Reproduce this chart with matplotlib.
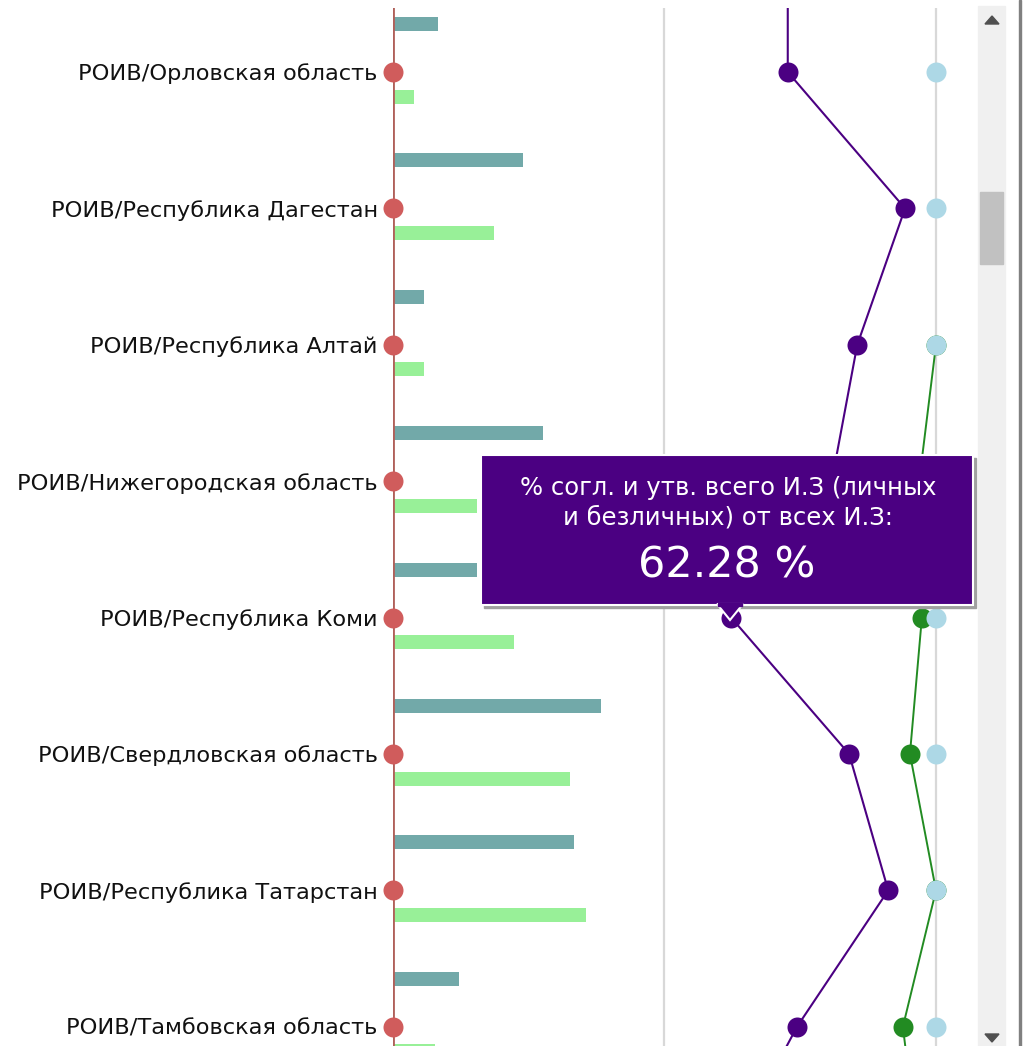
import matplotlib
matplotlib.use("Agg")
import matplotlib.pyplot as plt
import numpy as np
from matplotlib.patches import Rectangle, Polygon

# categories visible in the scrolled window
regions = ["РОИВ/Орловская область", "РОИВ/Республика Дагестан", "РОИВ/Республика Алтай",
           "РОИВ/Нижегородская область", "РОИВ/Республика Коми", "РОИВ/Свердловская область",
           "РОИВ/Республика Татарстан", "РОИВ/Тамбовская область"]

# bar series (counts, estimated)
bars_total = [45, 130, 31, 150, 84, 208, 181, 66]
bars_agreed = [21, 101, 31, 84, 121, 177, 193, 42]

# percent series: neighbour above, 8 visible categories, neighbour below
pct_all = [72.7, 72.7, 94.3, 85.5, 80.8, 62.28, 84.0, 91.2, 74.4, 61.0]
pct_agreed = [np.nan, np.nan, np.nan, 100, 96.9, 97.4, 95.2, 100, 93.9, 97.0]
pct_max = [100, 100, 100, 100, 100, 100, 100, 100, 100, 100]

tooltip_idx = 4
tooltip_title = "% согл. и утв. всего И.З (личных\nи безличных) от всех И.З:"

W, H = 1030, 1046
fig = plt.figure(figsize=(W / 100, H / 100), dpi=100)

def fx(x):
    return x / W

def fy(y):
    return 1 - y / H

# axes: left edge = 0 %, 100 % lands at px 936
x0, x100, xr = 393, 936, 978
top, bot = 8, 1046
ax = fig.add_axes([fx(x0), fy(bot), fx(xr) - fx(x0), fy(top) - fy(bot)])
ax2 = ax.twiny()

step = 136.4
y_first = 72
ax.set_ylim((bot - y_first) / step, -(y_first - top) / step)
ax.set_xlim(0, xr - x0)            # bars: 1 unit = 1 px
ax2.set_xlim(0, (xr - x0) / (x100 - x0) * 100)

y = np.arange(len(regions))
bh = 14 / step
ax.barh(y - 48 / step, bars_total, height=bh, color="#72a9a9", zorder=2)
ax.barh(y + 24.5 / step, bars_agreed, height=bh, color="#98f098", zorder=2)

ax.set_yticks(y)
ax.set_yticklabels(regions, fontsize=16.2, color="#111111")
ax.tick_params(axis="y", length=0, pad=11)
ax.tick_params(axis="x", length=0, labelbottom=False)
ax2.tick_params(axis="x", length=0, labeltop=False)
for a in (ax, ax2):
    for s in a.spines.values():
        s.set_visible(False)
ax2.patch.set_visible(False)

# grid lines at 50 / 100 %
for g in (50, 100):
    ax2.axvline(g, color="#d8d8d8", lw=1.6, zorder=1)
ax2.axvline(0, color="#b0605a", lw=2.0, zorder=3)

ax2.plot(np.zeros(len(regions)), y, "o", color="#d05c5c", ms=14.4, mec="none",
         clip_on=False, zorder=5)

yy = np.arange(-1, len(regions) + 1)
ax2.plot(pct_all, yy, "-o", color="#4b0082", lw=1.5, ms=14.4, mec="none", zorder=4)
ax2.plot(pct_agreed, yy, "-o", color="#228b22", lw=1.4, ms=14.4, mec="none", zorder=4)
ax2.plot(pct_max, yy, "o", color="#add8e6", ms=14.4, mec="none", zorder=4)

# tooltip over Коми
bx0, bx1, by0, by1 = 481, 973, 455, 605
fig.add_artist(Rectangle((fx(bx0 + 3), fy(by1 + 3)), fx(bx1 - bx0), fy(by0) - fy(by1),
                         transform=fig.transFigure, color="#a0a0a0", zorder=10))
fig.add_artist(Rectangle((fx(bx0), fy(by1)), fx(bx1 - bx0), fy(by0) - fy(by1),
                         transform=fig.transFigure, fc="#4b0082", ec="white", lw=1.5, zorder=11))
tip_x = 730
fig.add_artist(Polygon([(fx(tip_x - 13), fy(by1 - 1)), (fx(tip_x + 13), fy(by1 - 1)),
                        (fx(tip_x), fy(by1 + 15))], closed=True, transform=fig.transFigure,
                       fc="#4b0082", ec="white", lw=1.5, zorder=12))
fig.add_artist(Rectangle((fx(tip_x - 12), fy(by1 + 1)), fx(24), fy(by1 - 2) - fy(by1 + 1),
                         transform=fig.transFigure, color="#4b0082", zorder=13))
fig.text(fx(728), fy(503), tooltip_title, ha="center", va="center", fontsize=17.5,
         color="white", linespacing=1.3, zorder=14)
fig.text(fx(727), fy(566), f"{pct_all[tooltip_idx + 1]:.2f} %", ha="center", va="center",
         fontsize=31, color="white", zorder=14)

# scrollbar
fig.add_artist(Rectangle((fx(978), fy(1046)), fx(27), fy(6) - fy(1046),
                         transform=fig.transFigure, color="#f0f0f0", zorder=10))
fig.add_artist(Rectangle((fx(980), fy(264)), fx(23), fy(192) - fy(264),
                         transform=fig.transFigure, color="#c1c1c1", zorder=11))
fig.add_artist(Polygon([(fx(985), fy(24)), (fx(999), fy(24)), (fx(992), fy(16))],
                       transform=fig.transFigure, color="#505050", zorder=11))
fig.add_artist(Polygon([(fx(985), fy(1034)), (fx(999), fy(1034)), (fx(992), fy(1042))],
                       transform=fig.transFigure, color="#505050", zorder=11))
fig.add_artist(Rectangle((fx(1019), 0), fx(2), 1, transform=fig.transFigure,
                         color="#808080", zorder=11))

fig.savefig("out.png", dpi=100)
